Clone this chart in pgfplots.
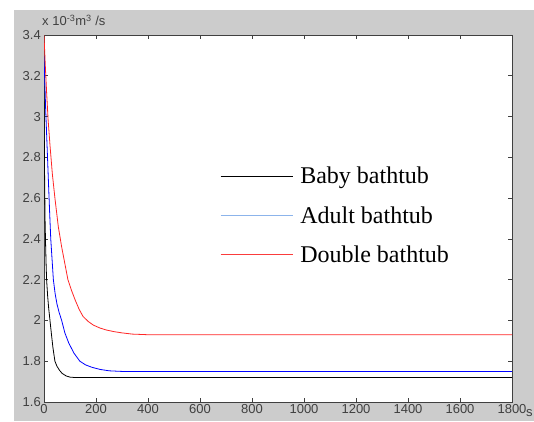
\documentclass[border=0pt]{standalone}
\usepackage{fontspec}
\setmainfont{Liberation Sans}
\newfontfamily\serif{Liberation Serif}
\usepackage{pgfplots}
\pgfplotsset{compat=1.18}
\definecolor{figgray}{RGB}{204,204,204}
\definecolor{legblue}{RGB}{140,180,235}
\definecolor{legred}{RGB}{250,60,60}
\begin{document}
\begin{tikzpicture}[x=1pt,y=1pt]
\useasboundingbox (0,0) rectangle (534,421);
\fill[figgray] (14,0) rectangle (534,411);
\begin{axis}[
    at={(44pt,19pt)}, anchor=south west,
    scale only axis, width=468pt, height=367pt,
    xmin=0, xmax=1800, ymin=1.6, ymax=3.4,
    xtick={0,200,400,600,800,1000,1200,1400,1600,1800},
    ytick={1.6,1.8,2,2.2,2.4,2.6,2.8,3,3.2,3.4},
    tick align=inside, major tick length=4pt,
    tick style={black!75, line width=0.6pt},
    axis line style={black!75, line width=0.9pt},
    axis background/.style={fill=white},
    /pgf/number format/assume math mode=true,
    /pgf/number format/1000 sep={},
    ticklabel style={font=\fontsize{13}{15}\selectfont, text=black!75},
    yticklabel style={inner sep=3pt},
    xticklabel style={inner sep=2.5pt},
    legend image code/.code={\draw[#1] (0pt,0pt) -- (72pt,0pt);},
    legend style={at={(0.369,0.651)}, anchor=north west, draw=none, fill=none,
        font=\serif\fontsize{24}{28}\selectfont, row sep=17pt, column sep=5pt,
        cells={anchor=west}},
    clip mode=individual,
]
\addplot[black, line width=0.8pt, forget plot] coordinates {
(0,3.15) (2,2.75) (4,2.5) (6,2.38) (8,2.28) (10,2.2) (14,2.12) (18,2.06)
(23,2.0) (28,1.94) (34,1.87) (42,1.8) (50,1.775) (60,1.755) (70,1.74)
(85,1.728) (100,1.722) (120,1.72) (1800,1.72)};
\addplot[blue, line width=0.8pt, forget plot] coordinates {
(0,3.3) (6,3.05) (12,2.85) (18,2.65) (22,2.52) (26,2.4) (31,2.3) (36,2.2)
(43,2.13) (50,2.08) (58,2.04) (68,2.0) (80,1.94) (95,1.89) (115,1.84)
(138,1.8) (160,1.782) (185,1.77) (215,1.76) (250,1.753) (300,1.75) (1800,1.75)};
\addplot[red!85, line width=0.8pt, forget plot] coordinates {
(0,3.4) (5,3.25) (10,3.12) (16,2.98) (23,2.86) (32,2.72) (42,2.6) (55,2.46)
(68,2.36) (80,2.28) (92,2.2) (105,2.15) (120,2.1) (135,2.055) (150,2.02)
(170,1.995) (190,1.977) (215,1.963) (240,1.953) (270,1.945) (300,1.939)
(340,1.933) (400,1.93) (1800,1.93)};
\addlegendimage{black, line width=0.9pt}
\addlegendentry{Baby bathtub}
\addlegendimage{legblue, line width=1.4pt}
\addlegendentry{Adult bathtub}
\addlegendimage{legred, line width=0.9pt}
\addlegendentry{Double bathtub}
\end{axis}
\node[anchor=base west, inner sep=0pt, font=\fontsize{13}{15}\selectfont, text=black!75]
  at (42,395) {x 10\textsuperscript{-3}m\textsuperscript{3} /s};
\node[anchor=base west, inner sep=0pt, font=\fontsize{13}{15}\selectfont, text=black!75]
  at (526,5) {s};
\end{tikzpicture}
\end{document}
